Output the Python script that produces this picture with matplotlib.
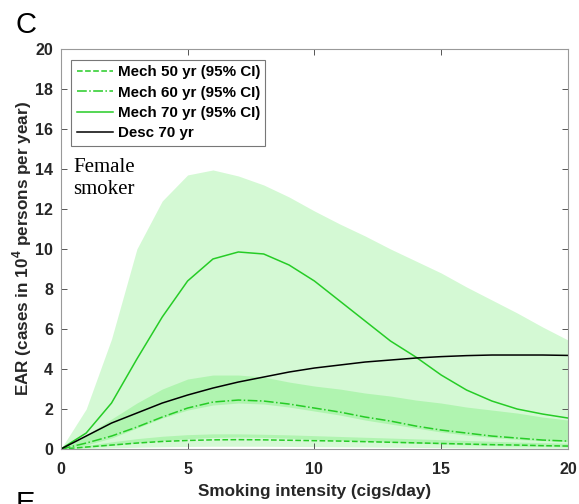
import numpy as np
import matplotlib.pyplot as plt

plt.rcParams['font.family'] = ['Liberation Sans', 'DejaVu Sans']
plt.rcParams['mathtext.fontset'] = 'custom'
plt.rcParams['mathtext.bf'] = 'Liberation Sans:bold'
plt.rcParams['mathtext.rm'] = 'Liberation Sans:bold'

# smoking intensity (cigs/day)
cigs = np.arange(0, 21)

# excess absolute risk, mechanistic model by attained age
mech50 = [0, 0.10, 0.20, 0.30, 0.38, 0.43, 0.46, 0.47, 0.46, 0.44, 0.42,
          0.40, 0.37, 0.34, 0.31, 0.28, 0.25, 0.22, 0.20, 0.17, 0.15]
mech50_lo = [0, 0.03, 0.06, 0.09, 0.11, 0.13, 0.14, 0.14, 0.14, 0.13, 0.12,
             0.11, 0.10, 0.09, 0.08, 0.07, 0.06, 0.05, 0.05, 0.04, 0.04]
mech50_hi = [0, 0.18, 0.36, 0.52, 0.64, 0.72, 0.76, 0.76, 0.74, 0.71, 0.67,
             0.63, 0.59, 0.55, 0.51, 0.47, 0.43, 0.39, 0.35, 0.32, 0.29]

mech60 = [0, 0.30, 0.65, 1.10, 1.60, 2.05, 2.35, 2.45, 2.40, 2.25, 2.05,
          1.85, 1.60, 1.40, 1.15, 0.95, 0.80, 0.65, 0.55, 0.45, 0.40]
mech60_lo = [0, 0.08, 0.18, 0.30, 0.42, 0.52, 0.58, 0.60, 0.58, 0.54, 0.49,
             0.44, 0.39, 0.34, 0.29, 0.25, 0.21, 0.18, 0.15, 0.13, 0.11]
mech60_hi = [0, 0.70, 1.50, 2.30, 3.00, 3.50, 3.70, 3.70, 3.60, 3.35, 3.15,
             3.00, 2.80, 2.65, 2.45, 2.30, 2.10, 1.95, 1.80, 1.60, 1.45]

mech70 = [0, 0.80, 2.30, 4.50, 6.60, 8.40, 9.50, 9.85, 9.75, 9.20, 8.40,
          7.40, 6.40, 5.40, 4.60, 3.70, 2.95, 2.40, 2.00, 1.75, 1.55]
mech70_lo = [0, 0.20, 0.55, 1.05, 1.55, 1.95, 2.20, 2.30, 2.25, 2.10, 1.90,
             1.70, 1.45, 1.25, 1.05, 0.85, 0.70, 0.58, 0.48, 0.42, 0.37]
mech70_hi = [0, 2.00, 5.50, 10.00, 12.40, 13.70, 13.95, 13.65, 13.20, 12.60, 11.90,
             11.25, 10.65, 10.00, 9.40, 8.80, 8.10, 7.45, 6.80, 6.10, 5.45]

# descriptive model, attained age 70
desc70 = [0, 0.65, 1.30, 1.80, 2.30, 2.70, 3.05, 3.35, 3.60, 3.85, 4.05,
          4.20, 4.35, 4.45, 4.55, 4.62, 4.67, 4.70, 4.70, 4.70, 4.68]

green = (0.15, 0.80, 0.15)
band = (0.0, 0.88, 0.0)

fig = plt.figure(figsize=(5.79, 5.04), dpi=100)
ax = fig.add_axes([0.105, 0.109, 0.876, 0.794])

ax.fill_between(cigs, mech70_lo, mech70_hi, color=band, alpha=0.17, lw=0)
ax.fill_between(cigs, mech60_lo, mech60_hi, color=band, alpha=0.17, lw=0)
ax.fill_between(cigs, mech50_lo, mech50_hi, color=band, alpha=0.17, lw=0)

ax.plot(cigs, mech50, '--', color=green, lw=1.1, label='Mech 50 yr (95% CI)')
ax.plot(cigs, mech60, '-.', color=green, lw=1.1, label='Mech 60 yr (95% CI)')
ax.plot(cigs, mech70, '-', color=green, lw=1.1, label='Mech 70 yr (95% CI)')
ax.plot(cigs, desc70, '-', color='black', lw=1.1, label='Desc 70 yr')

ax.set_xlim(0, 20)
ax.set_ylim(0, 20)
ax.set_xticks([0, 5, 10, 15, 20])
ax.set_yticks(np.arange(0, 21, 2))
ax.tick_params(direction='in', top=True, right=True, length=4, width=0.7,
               color='#555555', labelsize=11.5)
ax.tick_params(axis='x', pad=9)
ax.tick_params(axis='y', pad=5.5)
for lab in ax.get_xticklabels() + ax.get_yticklabels():
    lab.set_fontweight('bold')
    lab.set_color('#262626')
for sp in ax.spines.values():
    sp.set_color('#999999')
    sp.set_linewidth(0.8)

ax.set_xlabel('Smoking intensity (cigs/day)', fontsize=12.3, fontweight='bold',
              color='#262626', labelpad=5)
ax.set_ylabel(r'EAR (cases in 10$^{\mathbf{4}}$ persons per year)', fontsize=12.3,
              fontweight='bold', color='#262626', labelpad=0.5)

leg = ax.legend(loc='upper left', bbox_to_anchor=(0.015, 0.98),
                prop={'weight': 'bold', 'size': 10.9}, frameon=True, fancybox=False,
                handlelength=2.4, handletextpad=0.3, borderpad=0.35,
                labelspacing=0.42, borderaxespad=0.2)
leg.get_frame().set_edgecolor('#555555')
leg.get_frame().set_linewidth(0.8)

ax.text(0.024, 0.727, 'Female\nsmoker', transform=ax.transAxes,
        family='Liberation Serif', fontsize=15, va='top', ha='left',
        linespacing=1.2)

fig.text(0.027, 0.978, 'C', fontsize=21, va='top', ha='left')
fig.text(0.027, 0.028, 'E', fontsize=21, va='top', ha='left')

fig.savefig('out.png', dpi=100)
